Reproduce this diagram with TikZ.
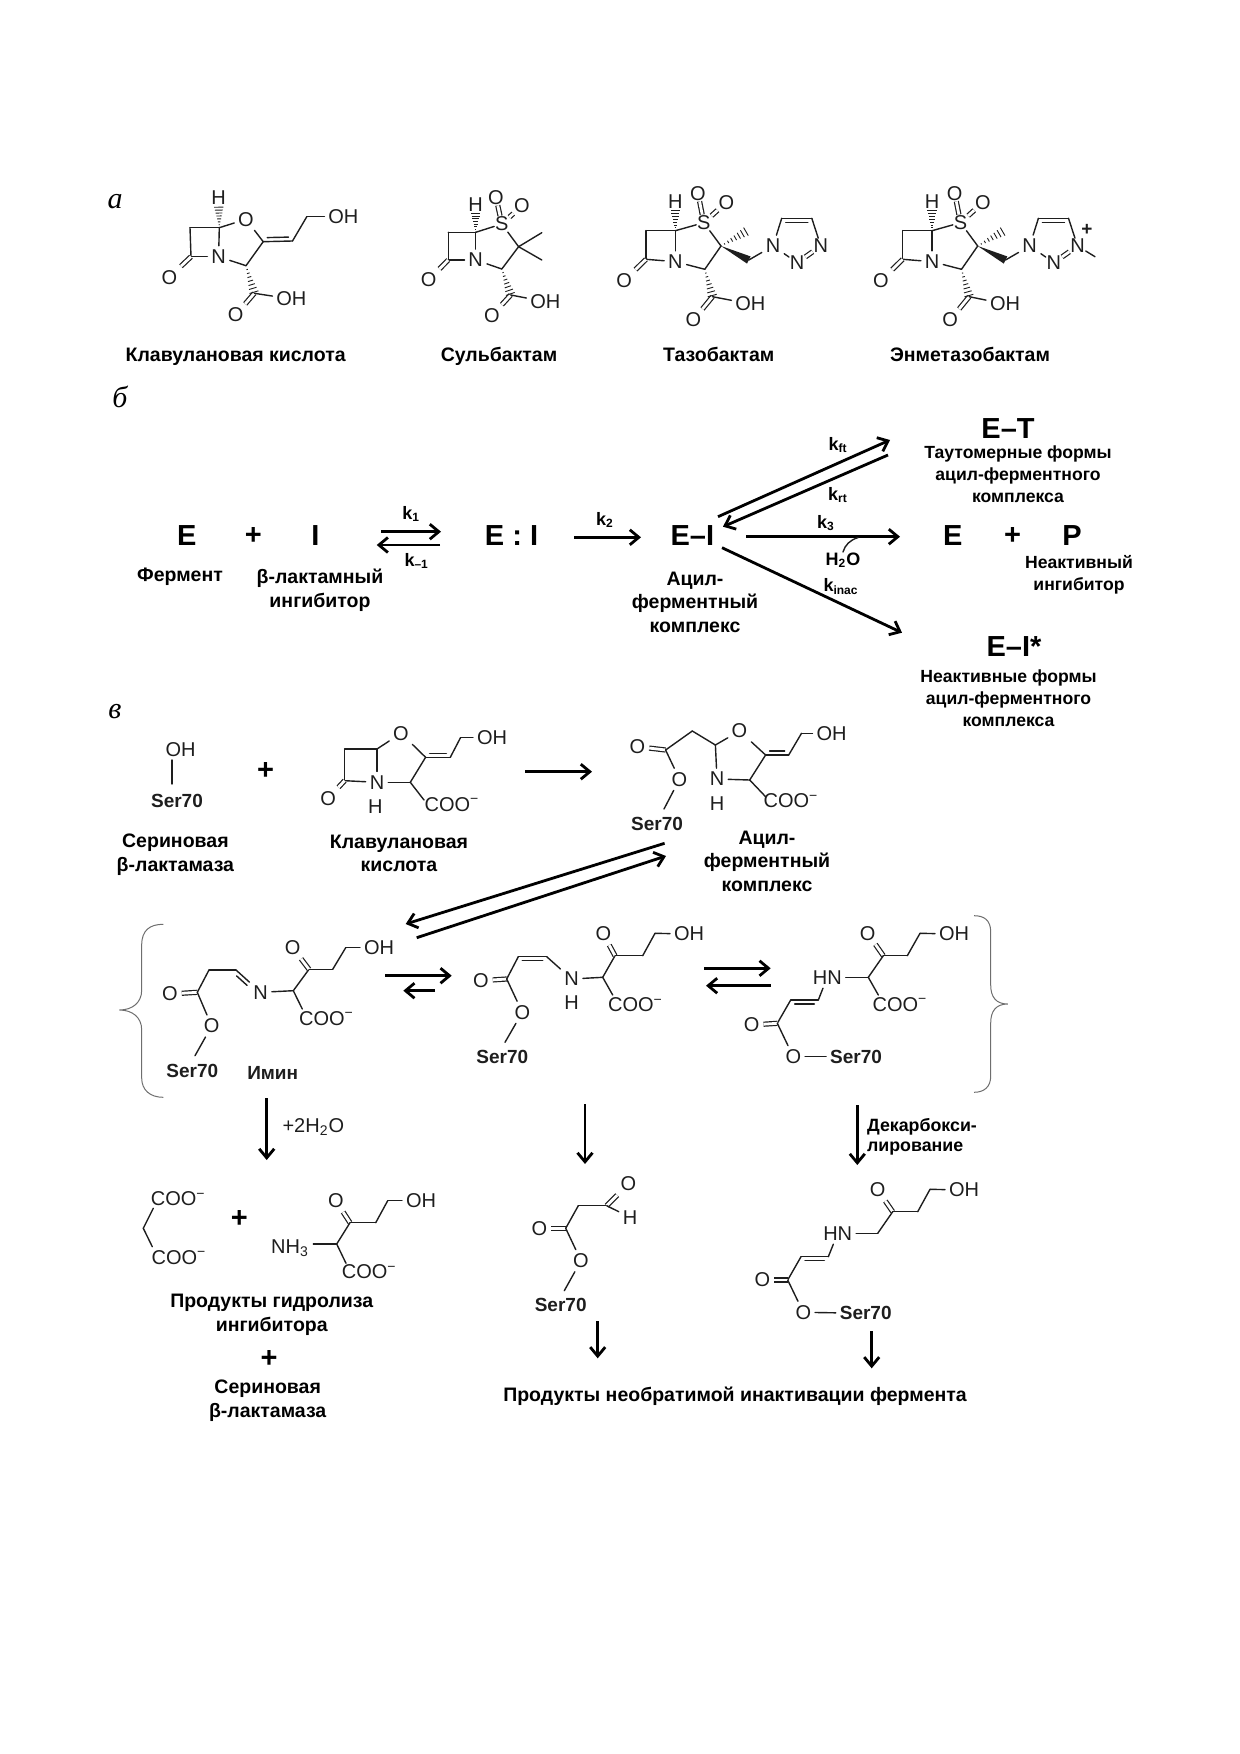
\documentclass[tikz,border=0pt]{standalone}
\usepackage{fontspec}
\setmainfont{Liberation Sans}
\newfontfamily\serfont{Liberation Serif}
\usepackage{xcolor}
\definecolor{Ink}{RGB}{30,30,30}
\definecolor{Brace}{RGB}{110,110,110}
\usetikzlibrary{calc}
\usetikzlibrary{arrows.meta}
\tikzstyle{Atom}=[inner sep=1.8pt,font=\fontsize{10}{12}\selectfont,text=Ink]
\tikzstyle{AtomT}=[Atom,inner sep=.3pt]
\tikzstyle{AtomB}=[inner sep=1.8pt,font=\fontsize{9.5}{12}\selectfont\bfseries,text=Ink]
\tikzstyle{Big}=[inner sep=0pt,font=\fontsize{14.5}{16}\selectfont\bfseries]
\tikzstyle{Rate}=[inner sep=0pt,font=\fontsize{9}{11}\selectfont\bfseries]
\tikzstyle{Label}=[inner sep=0pt,align=center,font=\fontsize{9.75}{11.8}\selectfont\bfseries]
\tikzstyle{LabelS}=[inner sep=0pt,align=center,font=\fontsize{8.8}{10.9}\selectfont\bfseries]
\tikzstyle{Name}=[Label,text height=7pt,text depth=2pt]
\tikzstyle{Letter}=[inner sep=0pt,font=\fontsize{15}{17}\selectfont\serfont\itshape]
\tikzstyle{Bond}=[draw=Ink,line width=.7pt,cap=round]
\tikzstyle{Dbl}=[draw=Ink,line width=.6pt,double=white,double distance=1.4pt]
\tikzstyle{Arr}=[draw=black,line width=1.4pt,-{Straight Barb[length=4.5pt,width=7.5pt]}]
\tikzstyle{Curly}=[draw=Brace,line width=.5pt]
\newcommand{\Coo}{COO\textsuperscript{−}}
\newcommand{\HashBond}[3]{%
  \foreach \t in {1,...,7}{%
    \pgfmathsetmacro\f{#1*\t/7.3}
    \draw[draw=Ink,line width=.45pt] ($(#2)!\f!(#3)!\t*.33pt!90:(#3)$)
      -- ($(#2)!\f!(#3)!\t*.33pt!-90:(#3)$);}}
\newcommand{\WedgeBond}[2]{%
  \fill[Ink] (#1) -- ($(#2)!2pt!90:(#1)$) -- ($(#2)!2pt!-90:(#1)$) -- cycle;}
\begin{document}
\begin{tikzpicture}[x=.5pt,y=-.5pt]
    \useasboundingbox (0,0) rectangle (1240,1754);
    \node[Letter](La)at(115,202){а};
    \node[Letter](Lb)at(120,397){б};
    \node[Letter](Lc)at(115,712){в};
    % clavulanic acid
    \node[Atom](ClH)at(218.6,198){H};
    \coordinate(Cl5)at(219.3,227.7);
    \node[Atom](ClO)at(246,219.3){O};
    \coordinate(Cl2)at(263.2,241.7);
    \coordinate(Cl8)at(292.5,241);
    \coordinate(Cl9)at(306.8,216.7);
    \node[Atom,anchor=west](ClOH)at(324.4,216.7){OH};
    \coordinate(Cl3)at(246,265.7);
    \node[Atom](ClN)at(218.6,256.7){N};
    \coordinate(Cl7)at(191,256.7);
    \coordinate(Cl6)at(190,227.7);
    \node[Atom](ClOb)at(169.3,277.3){O};
    \coordinate(ClC)at(254.3,293.3);
    \node[Atom](ClOc)at(235.7,315){O};
    \node[Atom,anchor=west](ClOd)at(272.4,299){OH};
    \draw[Bond](Cl5)--(ClO);\draw[Bond](ClO)--(Cl2);\draw[Bond](Cl2)--(Cl3);
    \draw[Bond](Cl3)--(ClN);\draw[Bond](ClN)--(Cl5);\draw[Bond](ClN)--(Cl7);
    \draw[Bond](Cl7)--(Cl6);\draw[Bond](Cl6)--(Cl5);\draw[Dbl](Cl7)--(ClOb);
    \draw[Bond](Cl2)--(Cl8);\draw[Bond,shorten <=2pt,shorten >=2pt,transform canvas={yshift=2pt}](Cl2)--(Cl8);
    \draw[Bond](Cl8)--(Cl9);\draw[Bond](Cl9)--(ClOH);
    \draw[Dbl](ClC)--(ClOc);\draw[Bond](ClC)--(ClOd);
    \HashBond{.72}{Cl5}{ClH}
    \HashBond{1}{Cl3}{ClC}
    \node[Name](ClName)at(235.7,356.5){Клавулановая кислота};
    % sulbactam
    \node[Atom](SuH)at(475.7,205){H};
    \coordinate(Su5)at(475.7,232.3);
    \node[AtomT](SuS)at(501.8,224){S};
    \node[AtomT](SuOa)at(496,197.3){O};
    \node[AtomT](SuOb)at(522,205.7){O};
    \coordinate(Su2)at(518.6,246.7);
    \coordinate(SuMa)at(541.8,232.7);
    \coordinate(SuMb)at(541.8,260);
    \coordinate(Su3)at(501.8,269);
    \node[Atom](SuN)at(475.7,260){N};
    \coordinate(Su7)at(448.2,260);
    \coordinate(Su6)at(448.2,232.3);
    \node[Atom](SuOc)at(428.6,280){O};
    \coordinate(SuC)at(510.7,295);
    \node[Atom](SuOd)at(491.8,315.7){O};
    \node[Atom,anchor=west](SuOe)at(526.4,301.7){OH};
    \draw[Bond](Su5)--(SuS);\draw[Bond](SuS)--(Su2);\draw[Bond](Su2)--(Su3);
    \draw[Bond](Su3)--(SuN);\draw[Bond](SuN)--(Su5);\draw[Bond](SuN)--(Su7);
    \draw[Bond](Su7)--(Su6);\draw[Bond](Su6)--(Su5);\draw[Dbl](Su7)--(SuOc);
    \draw[Dbl](SuS)--(SuOa);\draw[Dbl](SuS)--(SuOb);
    \draw[Bond](Su2)--(SuMa);\draw[Bond](Su2)--(SuMb);
    \draw[Dbl](SuC)--(SuOd);\draw[Bond](SuC)--(SuOe);
    \HashBond{.72}{Su5}{SuH}
    \HashBond{1}{Su3}{SuC}
    \node[Name](SuName)at(499,356.5){Сульбактам};
    % tazobactam
    \node[Atom](TaH)at(675.4,201.7){H};
    \coordinate(Ta5)at(675.4,230.7);
    \node[AtomT](TaS)at(703.8,222.7){S};
    \node[AtomT](TaOa)at(698,193.3){O};
    \node[AtomT](TaOb)at(726.3,202.3){O};
    \coordinate(Ta2)at(721,246);
    \coordinate(TaM)at(747,231);
    \coordinate(TaK)at(748.8,260);
    \node[Atom](TaNa)at(773,246){N};
    \coordinate(TaCa)at(781.7,218.3);
    \coordinate(TaCb)at(811.8,218.3);
    \node[AtomT](TaNc)at(820.8,246){N};
    \node[AtomT](TaNb)at(797.2,262.7){N};
    \coordinate(Ta3)at(704.8,269.3);
    \node[Atom](TaN)at(675.4,261.7){N};
    \coordinate(Ta7)at(646,259.3);
    \coordinate(Ta6)at(646,230.7);
    \node[Atom](TaOc)at(624.2,280.7){O};
    \coordinate(TaC)at(712.5,296.7);
    \node[Atom](TaOd)at(693.4,320){O};
    \node[Atom,anchor=west](TaOe)at(731.4,304){OH};
    \draw[Bond](Ta5)--(TaS);\draw[Bond](TaS)--(Ta2);\draw[Bond](Ta2)--(Ta3);
    \draw[Bond](Ta3)--(TaN);\draw[Bond](TaN)--(Ta5);\draw[Bond](TaN)--(Ta7);
    \draw[Bond](Ta7)--(Ta6);\draw[Bond](Ta6)--(Ta5);\draw[Dbl](Ta7)--(TaOc);
    \draw[Dbl](TaS)--(TaOa);\draw[Dbl](TaS)--(TaOb);
    \draw[Bond](TaK)--(TaNa);\draw[Bond](TaNa)--(TaCa);\draw[Bond](TaCa)--(TaCb);
    \draw[Bond,shorten <=2pt,shorten >=2pt,transform canvas={yshift=-2pt}](TaCa)--(TaCb);
    \draw[Bond](TaCb)--(TaNc);\draw[Dbl](TaNc)--(TaNb);\draw[Bond](TaNb)--(TaNa);
    \draw[Dbl](TaC)--(TaOd);\draw[Bond](TaC)--(TaOe);
    \WedgeBond{Ta2}{TaK}
    \HashBond{.72}{Ta5}{TaH}
    \HashBond{1}{Ta3}{TaC}
    \HashBond{1}{Ta2}{TaM}
    \node[Name](TaName)at(718.7,356.5){Тазобактам};
    % enmetazobactam
    \node[Atom](EnH)at(932.1,201.7){H};
    \coordinate(En5)at(932.1,230.7);
    \node[AtomT](EnS)at(960.5,222.7){S};
    \node[AtomT](EnOa)at(954.7,193.3){O};
    \node[AtomT](EnOb)at(983,202.3){O};
    \coordinate(En2)at(977.7,246);
    \coordinate(EnM)at(1003.7,231);
    \coordinate(EnK)at(1005.5,260);
    \node[Atom](EnNa)at(1029.7,246){N};
    \coordinate(EnCa)at(1038.4,218.3);
    \coordinate(EnCb)at(1068.5,218.3);
    \node[AtomT](EnNc)at(1077.5,246){N};
    \node[AtomT](EnNb)at(1053.9,262.7){N};
    \coordinate(EnMe)at(1095,256.7);
    \node[AtomB,inner sep=0pt](EnPl)at(1087,230){+};
    \coordinate(En3)at(961.5,269.3);
    \node[Atom](EnN)at(932.1,261.7){N};
    \coordinate(En7)at(902.7,259.3);
    \coordinate(En6)at(902.7,230.7);
    \node[Atom](EnOc)at(880.9,280.7){O};
    \coordinate(EnC)at(969.2,296.7);
    \node[Atom](EnOd)at(950.1,320){O};
    \node[Atom,anchor=west](EnOe)at(986,304){OH};
    \draw[Bond](En5)--(EnS);\draw[Bond](EnS)--(En2);\draw[Bond](En2)--(En3);
    \draw[Bond](En3)--(EnN);\draw[Bond](EnN)--(En5);\draw[Bond](EnN)--(En7);
    \draw[Bond](En7)--(En6);\draw[Bond](En6)--(En5);\draw[Dbl](En7)--(EnOc);
    \draw[Dbl](EnS)--(EnOa);\draw[Dbl](EnS)--(EnOb);
    \draw[Bond](EnK)--(EnNa);\draw[Bond](EnNa)--(EnCa);\draw[Bond](EnCa)--(EnCb);
    \draw[Bond,shorten <=2pt,shorten >=2pt,transform canvas={yshift=-2pt}](EnCa)--(EnCb);
    \draw[Bond](EnCb)--(EnNc);\draw[Dbl](EnNc)--(EnNb);\draw[Bond](EnNb)--(EnNa);
    \draw[Bond](EnNc)--(EnMe);
    \draw[Dbl](EnC)--(EnOd);\draw[Bond](EnC)--(EnOe);
    \WedgeBond{En2}{EnK}
    \HashBond{.72}{En5}{EnH}
    \HashBond{1}{En3}{EnC}
    \HashBond{1}{En2}{EnM}
    \node[Name](EnName)at(970,356.5){Энметазобактам};
    % kinetic scheme
    \node[Big](Ea)at(186.7,535.7){E};
    \node[Big](Pa)at(253.3,535.7){+};
    \node[Big](Ia)at(315.3,535.7){I};
    \node[Label](Fe)at(180,576.7){Фермент};
    \node[Label](In)at(320,590){β-лактамный\\ингибитор};
    \node[Rate](Ka)at(411.3,514.3){k\textsubscript{1}};
    \coordinate(Aa)at(381,531.7);\coordinate(Ab)at(441,531.7);
    \coordinate(Ac)at(440,545);\coordinate(Ad)at(376.7,545);
    \node[Rate](Kb)at(416.7,561){k\textsubscript{–1}};
    \draw[Arr](Aa)--(Ab);\draw[Arr](Ac)--(Ad);
    \node[Big](EI)at(511.5,535.7){E : I};
    \node[Rate](Kc)at(605,520){k\textsubscript{2}};
    \coordinate(Ae)at(574,537.3);\coordinate(Af)at(641,537.3);
    \draw[Arr](Ae)--(Af);
    \node[Big](EIa)at(692.3,535.7){E–I};
    \node[Label](AcA)at(695,602.3){Ацил-\\ферментный\\комплекс};
    \coordinate(Ag)at(718,516.7);\coordinate(Ah)at(890,440);
    \coordinate(Ai)at(888,455);\coordinate(Aj)at(723,526.7);
    \draw[Arr](Ag)--(Ah);\draw[Arr](Ai)--(Aj);
    \node[Rate](Kd)at(838,445){k\textsubscript{ft}};
    \node[Rate](Ke)at(838,495){k\textsubscript{rt}};
    \node[Big](ET)at(1008,428.3){E–T};
    \node[LabelS](ETn)at(1018,474){Таутомерные формы\\ацил-ферментного\\комплекса};
    \coordinate(Ak)at(746,536.7);\coordinate(Al)at(900,536.7);
    \draw[Arr](Ak)--(Al);
    \node[Rate](Kf)at(826,523.3){k\textsubscript{3}};
    \node[Rate](Wa)at(843,560){H\textsubscript{2}O};
    \coordinate(Wb)at(843,552);\coordinate(Wc)at(858,537.6);
    \draw[Bond](Wb)..controls(845,545)and(850,540)..(Wc);
    \node[Big](Eb)at(952.7,535.7){E};
    \node[Big](Pb)at(1012.7,535.7){+};
    \node[Big](Pc)at(1072,535.7){P};
    \node[LabelS](NeP)at(1079,574.5){Неактивный\\ингибитор};
    \coordinate(Am)at(722,547.7);\coordinate(An)at(902,632.7);
    \draw[Arr](Am)--(An);
    \node[Rate](Kg)at(841,586.7){k\textsubscript{inac}};
    \node[Big](EIs)at(1014,646.7){E–I*};
    \node[LabelS](EIn)at(1008.5,698.5){Неактивные формы\\ацил-ферментного\\комплекса};
    % serine and clavulanate
    \node[Atom](SeO)at(180.5,749.3){OH};
    \node[AtomB](SeS)at(177,801){Ser70};
    \coordinate(Sea)at(171.8,760);\coordinate(Seb)at(171.8,784);
    \draw[Bond](Sea)--(Seb);
    \node[Label](SeName)at(175.4,854.5){Сериновая\\β-лактамаза};
    \node[Big](Pd)at(265.7,771){+};
    \node[Atom](CkO)at(401,733.3){O};
    \coordinate(Ck5)at(377,749);
    \coordinate(Ck6)at(344.6,749);
    \coordinate(Ck7)at(344.6,780.7);
    \node[Atom](CkOb)at(328.2,798.3){O};
    \node[Atom](CkN)at(377,782.3){N};
    \node[Atom](CkH)at(375.4,806.7){H};
    \coordinate(Ck3)at(410.3,782.3);
    \coordinate(Ck2)at(425.6,757.3);
    \coordinate(Ck8)at(450.3,757.3);
    \coordinate(Ck9)at(460.5,737.7);
    \node[Atom,anchor=west](CkOH)at(473,737.7){OH};
    \node[Atom](CkCoo)at(452,804.3){\Coo};
    \coordinate(CkE)at(424,800);
    \draw[Bond](Ck5)--(CkO);\draw[Bond](CkO)--(Ck2);\draw[Bond](Ck2)--(Ck3);
    \draw[Bond](Ck3)--(CkN);\draw[Bond](CkN)--(Ck5);\draw[Bond](CkN)--(Ck7);
    \draw[Bond](Ck7)--(Ck6);\draw[Bond](Ck6)--(Ck5);\draw[Dbl](Ck7)--(CkOb);
    \draw[Bond](Ck2)--(Ck8);\draw[Bond,shorten <=2pt,shorten >=2pt,transform canvas={yshift=2pt}](Ck2)--(Ck8);
    \draw[Bond](Ck8)--(Ck9);\draw[Bond](Ck9)--(CkOH);\draw[Bond](Ck3)--(CkE);
    \node[Label](CkName)at(399,853.5){Клавулановая\\кислота};
    \coordinate(Ao)at(525,771.7);\coordinate(Ap)at(592,771.7);
    \draw[Arr](Ao)--(Ap);
    % acyl-enzyme complex
    \node[Atom](AcO)at(637.4,746.7){O};
    \coordinate(AcC)at(665.6,750);
    \coordinate(AcK)at(692.3,731);
    \coordinate(Ac5)at(715.4,745);
    \node[Atom](AcOb)at(739.5,731){O};
    \coordinate(Ac2)at(765.6,755);
    \coordinate(Ac8)at(788.7,755);
    \coordinate(Ac9)at(801.5,733.3);
    \node[Atom,anchor=west](AcOH)at(812.5,733.3){OH};
    \coordinate(Ac3)at(749.7,780);
    \node[Atom](AcN)at(717,779){N};
    \node[Atom](AcH)at(717,803.3){H};
    \node[Atom](AcCoo)at(791,801){\Coo};
    \coordinate(AcE)at(765.6,796.7);
    \node[Atom](AcOe)at(679.5,779.3){O};
    \coordinate(AcF)at(664,809);
    \node[AtomB](AcS)at(657,824){Ser70};
    \draw[Dbl](AcC)--(AcO);\draw[Bond](AcC)--(AcK);\draw[Bond](AcK)--(Ac5);
    \draw[Bond](Ac5)--(AcOb);\draw[Bond](AcOb)--(Ac2);\draw[Bond](Ac2)--(Ac3);
    \draw[Bond](Ac3)--(AcN);\draw[Bond](AcN)--(Ac5);\draw[Bond](Ac3)--(AcE);
    \draw[Bond](Ac2)--(Ac8);\draw[Bond,shorten <=2pt,shorten >=2pt,transform canvas={yshift=2pt}](Ac2)--(Ac8);
    \draw[Bond](Ac8)--(Ac9);\draw[Bond](Ac9)--(AcOH);
    \draw[Bond](AcC)--(AcOe);\draw[Bond](AcOe)--(AcF);
    \node[Label](AcName)at(767,861){Ацил-\\ферментный\\комплекс};
    \coordinate(Aq)at(664.6,843.3);\coordinate(Ar)at(405.7,924);
    \coordinate(As)at(416.7,937.7);\coordinate(At)at(666,856);
    \draw[Arr](Aq)--(Ar);\draw[Arr](As)--(At);
    % braces
    \coordinate(Ba)at(163.3,924.3);\coordinate(Bb)at(119.3,1010);\coordinate(Bc)at(163.3,1097.3);
    \draw[Curly](Ba)..controls(150,924.3)and(141.7,930)..(141.7,945)--(141.7,990)
        ..controls(141.7,1003)and(132,1010)..(Bb)
        ..controls(132,1010)and(141.7,1017)..(141.7,1030)--(141.7,1078)
        ..controls(141.7,1090)and(150,1097.3)..(Bc);
    \coordinate(Bd)at(974,915.7);\coordinate(Be)at(1007.7,1004);\coordinate(Bf)at(974,1092.3);
    \draw[Curly](Bd)..controls(984,915.7)and(990.7,920)..(990.7,932)--(990.7,985)
        ..controls(990.7,997)and(996,1004)..(Be)
        ..controls(996,1004)and(990.7,1011)..(990.7,1023)--(990.7,1076)
        ..controls(990.7,1087)and(984,1092.3)..(Bf);
    % imine
    \node[Atom](ImO)at(170,994){O};
    \coordinate(ImC)at(197.3,992.3);
    \coordinate(ImK)at(209,970);
    \coordinate(ImL)at(236,970);
    \node[Atom](ImN)at(260.7,992.3){N};
    \coordinate(ImA)at(293.3,990.7);
    \coordinate(ImB)at(309,969.3);
    \node[Atom](ImOb)at(292.7,947.7){O};
    \coordinate(ImM)at(332.7,969.3);
    \coordinate(ImP)at(345.7,947.7);
    \node[Atom,anchor=west](ImOH)at(360,947.7){OH};
    \node[Atom](ImCoo)at(326.5,1018.3){\Coo};
    \coordinate(ImE)at(302.3,1009);
    \node[Atom](ImOe)at(211.7,1026){O};
    \coordinate(ImF)at(195,1055.7);
    \node[AtomB](ImS)at(192.3,1070.7){Ser70};
    \node[AtomB](ImName)at(272.7,1073.3){Имин};
    \draw[Dbl](ImC)--(ImO);\draw[Bond](ImC)--(ImK);\draw[Bond](ImK)--(ImL);
    \draw[Bond](ImL)--(ImN);
    \draw[Bond,shorten <=2pt,transform canvas={xshift=-1.2pt,yshift=-1.6pt}](ImL)--(ImN);
    \draw[Bond](ImN)--(ImA);\draw[Bond](ImA)--(ImB);\draw[Dbl](ImB)--(ImOb);
    \draw[Bond](ImB)--(ImM);\draw[Bond](ImM)--(ImP);\draw[Bond](ImP)--(ImOH);
    \draw[Bond](ImA)--(ImE);\draw[Bond](ImC)--(ImOe);\draw[Bond](ImOe)--(ImF);
    \coordinate(Au)at(385,975.7);\coordinate(Av)at(451.7,975.7);
    \coordinate(Aw)at(435,990.7);\coordinate(Ax)at(403.3,990.7);
    \draw[Arr](Au)--(Av);\draw[Arr](Aw)--(Ax);
    % cis enamine
    \node[Atom](EaO)at(481,980.7){O};
    \coordinate(EaC)at(506.7,979);
    \coordinate(EaK)at(518.3,956.7);
    \coordinate(EaL)at(546.7,956.7);
    \node[Atom](EaN)at(571.7,979){N};
    \node[Atom](EaH)at(571.7,1002.7){H};
    \coordinate(EaA)at(602.7,977.3);
    \coordinate(EaB)at(615,955.7);
    \node[Atom](EaOb)at(603.3,934){O};
    \coordinate(EaM)at(642.7,955.7);
    \coordinate(EaP)at(655,933.3);
    \node[Atom,anchor=west](EaOH)at(670,934){OH};
    \node[Atom](EaCoo)at(635.5,1005){\Coo};
    \coordinate(EaE)at(612.7,995);
    \node[Atom](EaOe)at(522.3,1012.3){O};
    \coordinate(EaF)at(505,1042.3);
    \node[AtomB](EaS)at(502.3,1056.7){Ser70};
    \draw[Dbl](EaC)--(EaO);\draw[Bond](EaC)--(EaK);\draw[Bond](EaK)--(EaL);
    \draw[Bond,shorten <=2pt,shorten >=2pt,transform canvas={yshift=-2pt}](EaK)--(EaL);
    \draw[Bond](EaL)--(EaN);\draw[Bond](EaN)--(EaA);\draw[Bond](EaA)--(EaB);
    \draw[Dbl](EaB)--(EaOb);\draw[Bond](EaB)--(EaM);\draw[Bond](EaM)--(EaP);
    \draw[Bond](EaP)--(EaOH);\draw[Bond](EaA)--(EaE);
    \draw[Bond](EaC)--(EaOe);\draw[Bond](EaOe)--(EaF);
    \coordinate(Ay)at(704.3,968.3);\coordinate(Az)at(770.7,968.3);
    \coordinate(Bh)at(770.7,985.7);\coordinate(Bg)at(706,985.7);
    \draw[Arr](Ay)--(Az);\draw[Arr](Bh)--(Bg);
    % trans enamine
    \node[Atom](EbO)at(867.7,933.3){O};
    \coordinate(EbB)at(883.3,955.7);
    \coordinate(EbM)at(907.3,955.7);
    \coordinate(EbP)at(920,933.3);
    \node[Atom,anchor=west](EbOH)at(935,934){OH};
    \coordinate(EbA)at(868.3,977.3);
    \node[Atom](EbN)at(827.3,977.3){HN};
    \node[Atom](EbCoo)at(900,1004.3){\Coo};
    \coordinate(EbE)at(878.3,995);
    \coordinate(EbK)at(818.3,1000);
    \coordinate(EbL)at(790.7,1000);
    \coordinate(EbC)at(777.3,1023.3);
    \node[Atom](EbOb)at(751.7,1025){O};
    \node[Atom](EbOe)at(793.3,1056.7){O};
    \node[AtomB](EbS)at(856,1056.7){Ser70};
    \draw[Dbl](EbB)--(EbO);\draw[Bond](EbB)--(EbM);\draw[Bond](EbM)--(EbP);
    \draw[Bond](EbP)--(EbOH);\draw[Bond](EbA)--(EbB);\draw[Bond](EbN)--(EbA);
    \draw[Bond](EbA)--(EbE);\draw[Bond](EbN)--(EbK);\draw[Bond](EbK)--(EbL);
    \draw[Bond,shorten <=2pt,shorten >=2pt,transform canvas={yshift=-2pt}](EbK)--(EbL);
    \draw[Bond](EbL)--(EbC);\draw[Dbl](EbC)--(EbOb);\draw[Bond](EbC)--(EbOe);
    \draw[Bond](EbOe)--(EbS);
    % lower arrows
    \coordinate(Ca)at(266.7,1098);\coordinate(Cb)at(266.7,1160);
    \draw[Arr](Ca)--(Cb);
    \node[Atom](Wd)at(313.3,1127.3){+2H\textsubscript{2}O};
    \coordinate(Cc)at(585,1104);\coordinate(Cd)at(585,1164);
    \draw[Arr](Cc)--(Cd);
    \coordinate(Ce)at(857.3,1105);\coordinate(Cf)at(857.3,1165);
    \draw[Arr](Ce)--(Cf);
    \node[LabelS,font=\fontsize{8.9}{10}\selectfont\bfseries,anchor=west,align=left](Dc)at(866.7,1137){Декарбокси-\\лирование};
    % hydrolysis products
    \node[Atom](HyA)at(178.3,1199){\Coo};
    \node[Atom](HyB)at(179,1257.3){\Coo};
    \coordinate(HyC)at(143.3,1228.3);
    \coordinate(HyD)at(153.3,1208.3);
    \coordinate(HyE)at(152.3,1246.7);
    \draw[Bond](HyD)--(HyC);\draw[Bond](HyC)--(HyE);
    \node[Big](Pe)at(239.3,1219.3){+};
    \node[Atom](HyO)at(336,1201){O};
    \coordinate(HyF)at(350,1222.7);
    \coordinate(HyG)at(375.7,1222.7);
    \coordinate(HyH)at(387.7,1200.7);
    \node[Atom,anchor=west](HyOH)at(402,1200.7){OH};
    \coordinate(HyK)at(336.7,1244);
    \node[Atom](HyN)at(290,1248.3){NH\textsubscript{3}};
    \coordinate(HyL)at(313.3,1244);
    \node[Atom](HyCoo)at(369.3,1271.7){\Coo};
    \coordinate(HyM)at(346,1263.3);
    \draw[Dbl](HyF)--(HyO);\draw[Bond](HyF)--(HyG);\draw[Bond](HyG)--(HyH);
    \draw[Bond](HyH)--(HyOH);\draw[Bond](HyF)--(HyK);\draw[Bond](HyK)--(HyL);
    \draw[Bond](HyK)--(HyM);
    \node[Label](HyName)at(271.7,1315){Продукты гидролиза\\ингибитора};
    \node[Big](Pf)at(269,1358.5){+};
    \node[Label](HyEnz)at(267.7,1401){Сериновая\\β-лактамаза};
    % aldehyde
    \node[Atom](AlO)at(539.3,1228.3){O};
    \coordinate(AlC)at(565.7,1228.3);
    \coordinate(AlK)at(578.3,1205.7);
    \coordinate(AlD)at(606.7,1205.7);
    \node[Atom](AlOb)at(628.3,1184){O};
    \node[Atom](AlH)at(630,1217.3){H};
    \node[Atom](AlOe)at(581,1260.7){O};
    \coordinate(AlF)at(564.3,1290.7);
    \node[AtomB](AlS)at(560.7,1305){Ser70};
    \draw[Dbl](AlC)--(AlO);\draw[Bond](AlC)--(AlK);\draw[Bond](AlK)--(AlD);
    \draw[Dbl](AlD)--(AlOb);\draw[Bond](AlD)--(AlH);
    \draw[Bond](AlC)--(AlOe);\draw[Bond](AlOe)--(AlF);
    \coordinate(Cg)at(597.7,1321);\coordinate(Ch)at(597.7,1358.3);
    \draw[Arr](Cg)--(Ch);
    % decarboxylated
    \node[Atom](DeO)at(877.7,1190){O};
    \coordinate(DeB)at(892.7,1211.7);
    \coordinate(DeM)at(917.7,1211.7);
    \coordinate(DeP)at(930,1189.3);
    \node[Atom,anchor=west](DeOH)at(945,1190){OH};
    \coordinate(DeA)at(877.7,1233.3);
    \node[Atom](DeN)at(837.7,1233.3){HN};
    \coordinate(DeK)at(828.3,1256.7);
    \coordinate(DeL)at(801,1256.7);
    \coordinate(DeC)at(787.7,1280);
    \node[Atom](DeOb)at(762.3,1280){O};
    \node[Atom](DeOe)at(803.3,1312.3){O};
    \node[AtomB](DeS)at(865.7,1313.3){Ser70};
    \draw[Dbl](DeB)--(DeO);\draw[Bond](DeB)--(DeM);\draw[Bond](DeM)--(DeP);
    \draw[Bond](DeP)--(DeOH);\draw[Bond](DeA)--(DeB);\draw[Bond](DeN)--(DeA);
    \draw[Bond](DeN)--(DeK);\draw[Bond](DeK)--(DeL);
    \draw[Bond,shorten <=2pt,shorten >=2pt,transform canvas={yshift=-2pt}](DeK)--(DeL);
    \draw[Bond](DeL)--(DeC);\draw[Dbl](DeC)--(DeOb);\draw[Bond](DeC)--(DeOe);
    \draw[Bond](DeOe)--(DeS);
    \coordinate(Ci)at(871.7,1331);\coordinate(Cj)at(871.7,1368.3);
    \draw[Arr](Ci)--(Cj);
    \node[Label](Pr)at(735,1396){Продукты необратимой инактивации фермента};
\end{tikzpicture}
\end{document}
